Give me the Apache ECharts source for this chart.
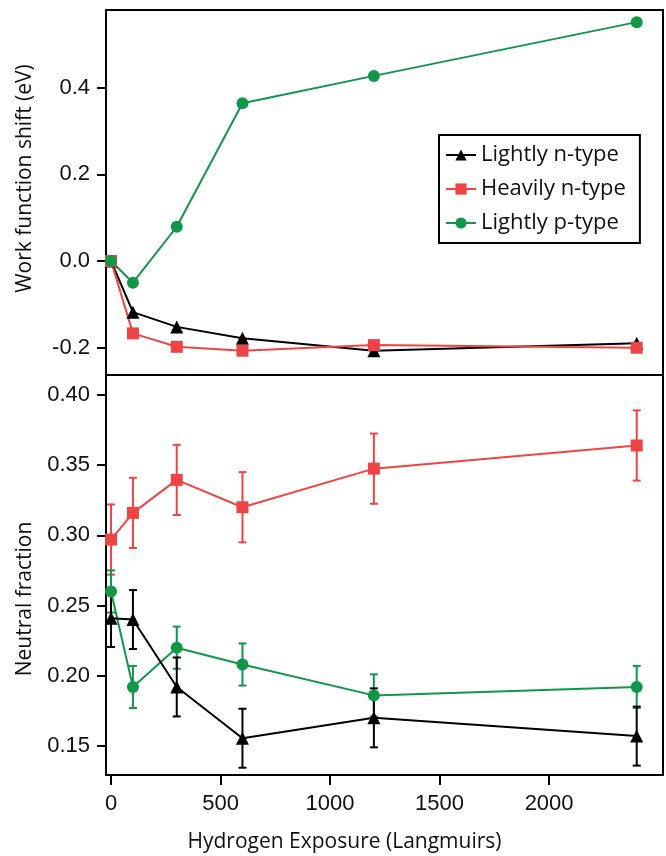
<!DOCTYPE html>
<html>
<head>
<meta charset="utf-8">
<script src="https://cdn.jsdelivr.net/npm/echarts@6/dist/echarts.min.js"></script>
<style>
  html, body { margin: 0; padding: 0; background: #fff; }
  #chart { width: 666px; height: 856px; }
</style>
</head>
<body>
<div id="chart"></div>
<script>
// exposure in Langmuirs
var exposure = [0, 100, 300, 600, 1200, 2400];

// top panel: work function shift (eV)
var wfLightN = [0, -0.118, -0.152, -0.178, -0.207, -0.190];
var wfHeavyN = [0, -0.167, -0.198, -0.207, -0.194, -0.200];
var wfLightP = [0, -0.050, 0.079, 0.364, 0.427, 0.551];

// bottom panel: neutral fraction with error bars
var nfLightN = [0.241, 0.240, 0.192, 0.1555, 0.170, 0.157];
var nfLightNErr = [0.0205, 0.021, 0.021, 0.021, 0.021, 0.021];
var nfHeavyN = [0.297, 0.316, 0.3395, 0.320, 0.3475, 0.364];
var nfHeavyNErr = [0.025, 0.025, 0.025, 0.025, 0.025, 0.025];
var nfLightP = [0.260, 0.192, 0.220, 0.208, 0.186, 0.192];
var nfLightPErr = [0.015, 0.015, 0.015, 0.015, 0.015, 0.015];

var xTicks = [0, 500, 1000, 1500, 2000];
var wfTicks = [-0.2, 0.0, 0.2, 0.4];
var nfTicks = [0.15, 0.20, 0.25, 0.30, 0.35, 0.40];

var BLACK = '#000000', RED = '#ee4446', GREEN = '#10974a';
var numFont = 'Liberation Sans';
var txtFont = 'Open Sans';

function pairs(ys) {
    return exposure.map(function (x, i) { return [x, ys[i]]; });
}

function errData(ys, errs) {
    return exposure.map(function (x, i) { return [x, ys[i] - errs[i], ys[i] + errs[i]]; });
}

function errorBars(name, ys, errs, color) {
    return {
        type: 'custom',
        name: name + ' err',
        xAxisIndex: 1,
        yAxisIndex: 1,
        z: 1,
        silent: true,
        data: errData(ys, errs),
        renderItem: function (params, api) {
            var lo = api.coord([api.value(0), api.value(1)]);
            var hi = api.coord([api.value(0), api.value(2)]);
            var w = 4;
            var st = { stroke: color, lineWidth: 2 };
            return {
                type: 'group',
                children: [
                    { type: 'line', shape: { x1: lo[0], y1: lo[1], x2: hi[0], y2: hi[1] }, style: st },
                    { type: 'line', shape: { x1: lo[0] - w, y1: lo[1], x2: lo[0] + w, y2: lo[1] }, style: st },
                    { type: 'line', shape: { x1: hi[0] - w, y1: hi[1], x2: hi[0] + w, y2: hi[1] }, style: st }
                ]
            };
        }
    };
}

function lineSeries(name, ys, color, symbol, size, axis) {
    return {
        type: 'line',
        name: name,
        xAxisIndex: axis,
        yAxisIndex: axis,
        z: 2,
        data: pairs(ys),
        symbol: symbol,
        symbolSize: size,
        showAllSymbol: true,
        lineStyle: { color: color, width: 2 },
        itemStyle: { color: color, borderWidth: 0 }
    };
}

var myChart = echarts.init(document.getElementById('chart'));

var option = {
    animation: false,
    backgroundColor: '#fff',
    legend: {
        data: ['Lightly n-type', 'Heavily n-type', 'Lightly p-type'],
        orient: 'vertical',
        left: 439,
        top: 135,
        itemWidth: 30,
        itemHeight: 14,
        itemGap: 12,
        padding: [9, 14, 9, 6],
        backgroundColor: '#fff',
        borderColor: '#000',
        borderWidth: 2,
        borderRadius: 0,
        textStyle: { fontFamily: txtFont, fontSize: 22, color: '#111' }
    },
    grid: [
        { left: 106, right: 3, top: 10, height: 365, show: true, borderColor: '#000', borderWidth: 2 },
        { left: 106, right: 3, top: 375, bottom: 81, show: true, borderColor: '#000', borderWidth: 2 }
    ],
    xAxis: [
        {
            type: 'value', gridIndex: 0, min: -23, max: 2520,
            axisLine: { show: false }, axisTick: { show: false },
            axisLabel: { show: false }, splitLine: { show: false }
        },
        {
            type: 'value', gridIndex: 1, min: -23, max: 2520,
            name: 'Hydrogen Exposure (Langmuirs)',
            nameLocation: 'middle',
            nameGap: 57,
            nameTextStyle: { fontFamily: txtFont, fontSize: 21, color: '#111', padding: [0, 80, 0, 0] },
            axisLine: { onZero: false, lineStyle: { color: '#000', width: 2 } },
            axisTick: { show: true, length: 10, lineStyle: { color: '#000', width: 2 }, customValues: xTicks },
            axisLabel: {
                margin: 18, fontFamily: numFont, fontSize: 22, color: '#111', customValues: xTicks,
                formatter: function (v) { return String(v); }
            },
            splitLine: { show: false }
        }
    ],
    yAxis: [
        {
            type: 'value', gridIndex: 0, min: -0.263, max: 0.579,
            name: 'Work function shift (eV)',
            nameLocation: 'middle',
            nameGap: 70,
            nameTextStyle: { fontFamily: txtFont, fontSize: 21, color: '#111', padding: [0, 0, 0, 28] },
            axisLine: { onZero: false, lineStyle: { color: '#000', width: 2 } },
            axisTick: { show: true, length: 9, lineStyle: { color: '#000', width: 2 }, customValues: wfTicks },
            axisLabel: {
                margin: 16, fontFamily: numFont, fontSize: 22, color: '#111', customValues: wfTicks,
                formatter: function (v) { return v.toFixed(1); }
            },
            splitLine: { show: false }
        },
        {
            type: 'value', gridIndex: 1, min: 0.1293, max: 0.4142,
            name: 'Neutral fraction',
            nameLocation: 'middle',
            nameGap: 70,
            nameTextStyle: { fontFamily: txtFont, fontSize: 21, color: '#111', padding: [0, 48, 0, 0] },
            axisLine: { onZero: false, lineStyle: { color: '#000', width: 2 } },
            axisTick: { show: true, length: 9, lineStyle: { color: '#000', width: 2 }, customValues: nfTicks },
            axisLabel: {
                margin: 16, fontFamily: numFont, fontSize: 22, color: '#111', customValues: nfTicks,
                formatter: function (v) { return v.toFixed(2); }
            },
            splitLine: { show: false }
        }
    ],
    series: [
        lineSeries('Lightly n-type', wfLightN, BLACK, 'triangle', 13, 0),
        lineSeries('Heavily n-type', wfHeavyN, RED, 'rect', 12, 0),
        lineSeries('Lightly p-type', wfLightP, GREEN, 'circle', 12, 0),
        errorBars('Heavily n-type', nfHeavyN, nfHeavyNErr, RED),
        errorBars('Lightly p-type', nfLightP, nfLightPErr, GREEN),
        errorBars('Lightly n-type', nfLightN, nfLightNErr, BLACK),
        lineSeries('Heavily n-type', nfHeavyN, RED, 'rect', 12, 1),
        lineSeries('Lightly p-type', nfLightP, GREEN, 'circle', 12, 1),
        lineSeries('Lightly n-type', nfLightN, BLACK, 'triangle', 13, 1)
    ]
};

myChart.setOption(option);
</script>
</body>
</html>
